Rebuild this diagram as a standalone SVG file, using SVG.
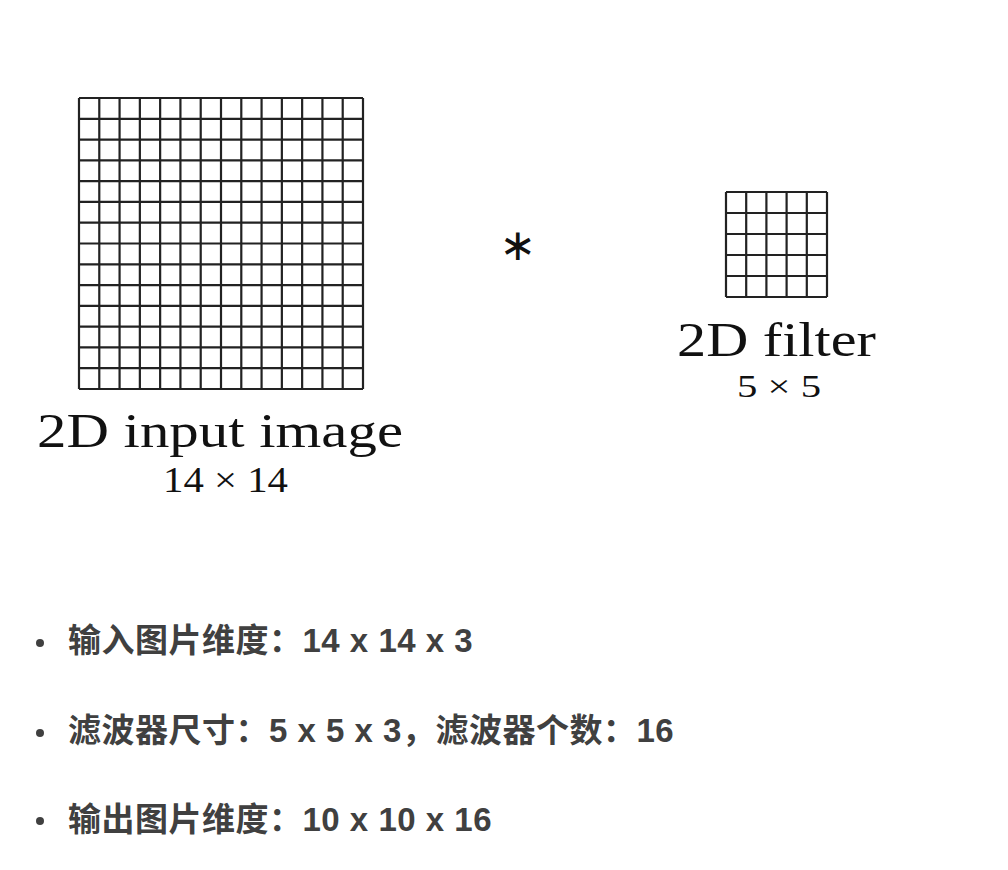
<svg xmlns="http://www.w3.org/2000/svg" width="1008" height="870" viewBox="0 0 1008 870">
<style>
.grid{fill:none;stroke:#222;stroke-width:2.2}
.tex{font-family:"Liberation Serif","DejaVu Serif",serif;fill:#111}
.big{font-size:49px}
.small{font-size:35px}
.item{font-family:"Liberation Sans","Noto Sans CJK SC",sans-serif;font-weight:bold;font-size:33px;letter-spacing:0.5px;fill:#404040}
.dot{fill:#404040}
</style>
<rect width="1008" height="870" fill="#ffffff"/>
<g id="connectors"/>
<g id="input-image">
<path class="grid" d="M79,98V389M99.29,98V389M119.57,98V389M139.86,98V389M160.14,98V389M180.43,98V389M200.71,98V389M221,98V389M241.29,98V389M261.57,98V389M281.86,98V389M302.14,98V389M322.43,98V389M342.71,98V389M363,98V389M79,98H363M79,118.79H363M79,139.57H363M79,160.36H363M79,181.14H363M79,201.93H363M79,222.71H363M79,243.5H363M79,264.29H363M79,285.07H363M79,305.86H363M79,326.64H363M79,347.43H363M79,368.21H363M79,389H363"/>
<text class="tex big" x="37" y="447" textLength="366" lengthAdjust="spacingAndGlyphs">2D input image</text>
<text class="tex small" x="163" y="492" textLength="125" lengthAdjust="spacingAndGlyphs">14 × 14</text>
</g>
<g id="operator">
<text x="518" y="260" text-anchor="middle" style="font-family:'DejaVu Sans',sans-serif;font-size:44px;fill:#111">∗</text>
</g>
<g id="filter">
<path class="grid" d="M726,192V297M746.2,192V297M766.4,192V297M786.6,192V297M806.8,192V297M827,192V297M726,192H827M726,213H827M726,234H827M726,255H827M726,276H827M726,297H827"/>
<text class="tex big" x="677" y="356" textLength="199" lengthAdjust="spacingAndGlyphs">2D filter</text>
<text class="tex" x="737" y="397" style="font-size:32px" textLength="84" lengthAdjust="spacingAndGlyphs">5 × 5</text>
</g>
<g id="bullets">
<circle class="dot" cx="40" cy="643" r="4"/>
<text class="item" x="68" y="652">输入图片维度：14 x 14 x 3</text>
<circle class="dot" cx="40" cy="733" r="4"/>
<text class="item" x="68" y="742">滤波器尺寸：5 x 5 x 3，滤波器个数：16</text>
<circle class="dot" cx="40" cy="821" r="4"/>
<text class="item" x="68" y="831">输出图片维度：10 x 10 x 16</text>
</g>
</svg>
